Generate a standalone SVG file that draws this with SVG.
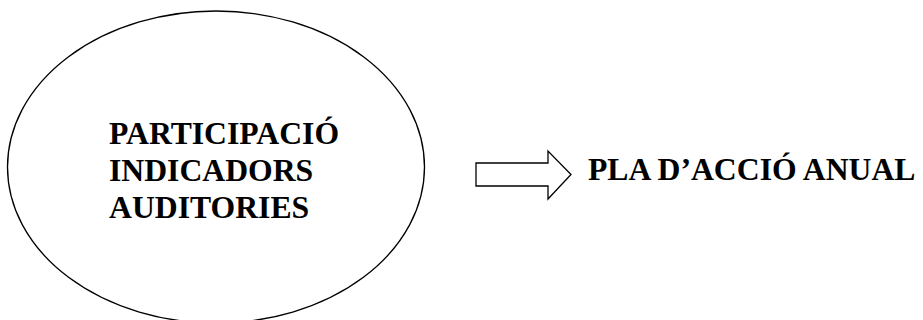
<svg xmlns="http://www.w3.org/2000/svg" width="923" height="320" viewBox="0 0 923 320">
<style>
.t{font-family:"Liberation Serif","Times New Roman",serif;font-weight:bold;font-size:31.7px;fill:#000}
.s{fill:#fff;stroke:#000;stroke-width:1.3}
</style>
<rect width="923" height="320" fill="#fff"/>
<g id="node-ellipse">
<ellipse class="s" cx="216" cy="167" rx="208.5" ry="156"/>
<text class="t" x="109" y="144">PARTICIPACIÓ</text>
<text class="t" x="109" y="181">INDICADORS</text>
<text class="t" x="109" y="218">AUDITORIES</text>
</g>
<g id="connectors">
<polygon class="s" points="476,163 548,163 548,151 571,174.5 548,199 548,186 476,186"/>
</g>
<g id="node-pla">
<text class="t" x="588" y="180">PLA D’ACCIÓ ANUAL</text>
</g>
</svg>
